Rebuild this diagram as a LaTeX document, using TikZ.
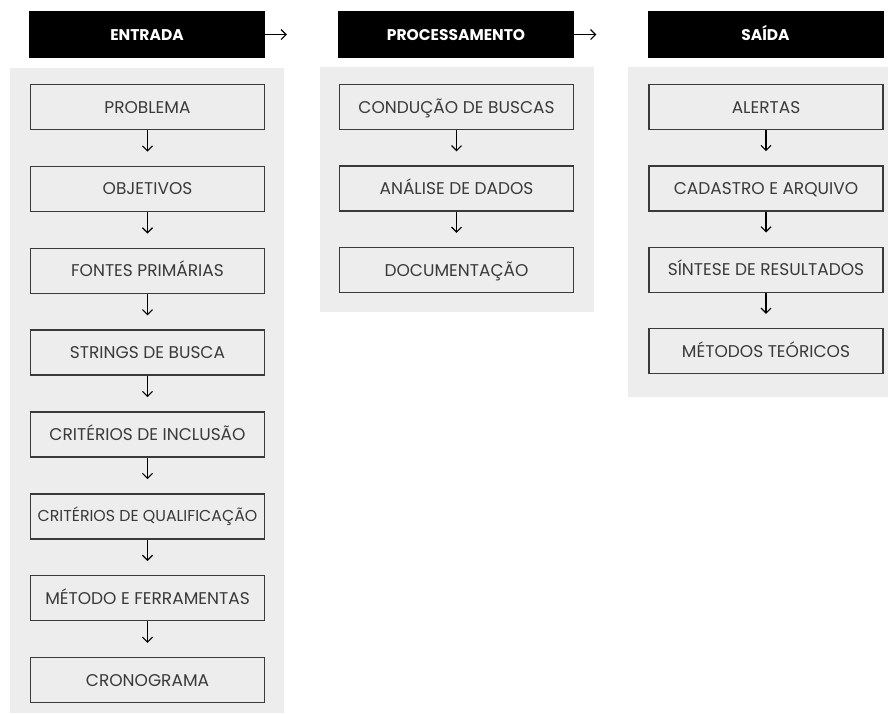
\documentclass[tikz,border=0pt]{standalone}
\usepackage{fontspec}
\setmainfont{Poppins}
\usetikzlibrary{arrows.meta}
\definecolor{panelgray}{HTML}{EDEDED}
\definecolor{boxtext}{HTML}{3A3A3A}
\begin{document}
\begin{tikzpicture}[x=1pt,y=-1pt,
  panel/.style={fill=panelgray,draw=none},
  headbox/.style={fill=black,draw=none,minimum width=236pt,minimum height=47pt,inner sep=0pt,
    text=white,font=\fontsize{15.5}{16}\selectfont\bfseries,text height=11pt,text depth=0pt},
  stepbox/.style={draw=boxtext,line width=1.4pt,fill=panelgray,minimum width=234pt,minimum height=45pt,
    inner sep=0pt,text=boxtext,font=\fontsize{17}{18}\selectfont,text height=12pt,text depth=0pt},
  smalltext/.style={font=\fontsize{15.8}{17}\selectfont,text height=11.3pt},
  flow/.style={draw=black,line width=1.1pt,-{Straight Barb[length=5pt,width=10pt]}},
  hflow/.style={draw=black,line width=1.1pt,-{Straight Barb[length=5pt,width=10pt]}}
]
\useasboundingbox (0,0) rectangle (888,713);
\fill[white] (0,0) rectangle (888,713);
% panels
\fill[panelgray] (10,68) rectangle (284,713);
\fill[panelgray] (320,67) rectangle (594,312);
\fill[panelgray] (628,67) rectangle (888,397);
% headers
\node[headbox] (h1) at (147,34.5) {ENTRADA};
\node[headbox] (h2) at (456,34.5) {PROCESSAMENTO};
\node[headbox] (h3) at (765.5,34.5) {SAÍDA};
\draw[hflow,shorten >=51pt] (h1.east) -- (h2.west);
\draw[hflow,shorten >=51pt] (h2.east) -- (h3.west);
% column 1
\node[stepbox] (a1) at (147.5,107) {PROBLEMA};
\node[stepbox] (a2) at (147.5,188.9) {OBJETIVOS};
\node[stepbox] (a3) at (147.5,270.7) {FONTES PRIMÁRIAS};
\node[stepbox] (a4) at (147.5,352.6) {STRINGS DE BUSCA};
\node[stepbox] (a5) at (147.5,434.4) {CRITÉRIOS DE INCLUSÃO};
\node[stepbox,smalltext] (a6) at (147.5,516.3) {CRITÉRIOS DE QUALIFICAÇÃO};
\node[stepbox] (a7) at (147.5,598.2) {MÉTODO E FERRAMENTAS};
\node[stepbox] (a8) at (147.5,680) {CRONOGRAMA};
% column 2
\node[stepbox] (b1) at (456.5,107) {CONDUÇÃO DE BUSCAS};
\node[stepbox] (b2) at (456.5,188.5) {ANÁLISE DE DADOS};
\node[stepbox] (b3) at (456.5,270) {DOCUMENTAÇÃO};
% column 3
\node[stepbox] (c1) at (766,107) {ALERTAS};
\node[stepbox] (c2) at (766,188.3) {CADASTRO E ARQUIVO};
\node[stepbox] (c3) at (766,269.7) {SÍNTESE DE RESULTADOS};
\node[stepbox] (c4) at (766,351) {MÉTODOS TEÓRICOS};
% arrows
\foreach \u/\v in {a1/a2,a2/a3,a3/a4,a4/a5,a5/a6,a6/a7,a7/a8,b1/b2,b2/b3,c1/c2,c2/c3,c3/c4}
  \draw[flow,shorten >=14pt] (\u.south) -- (\v.north);
\end{tikzpicture}
\end{document}
